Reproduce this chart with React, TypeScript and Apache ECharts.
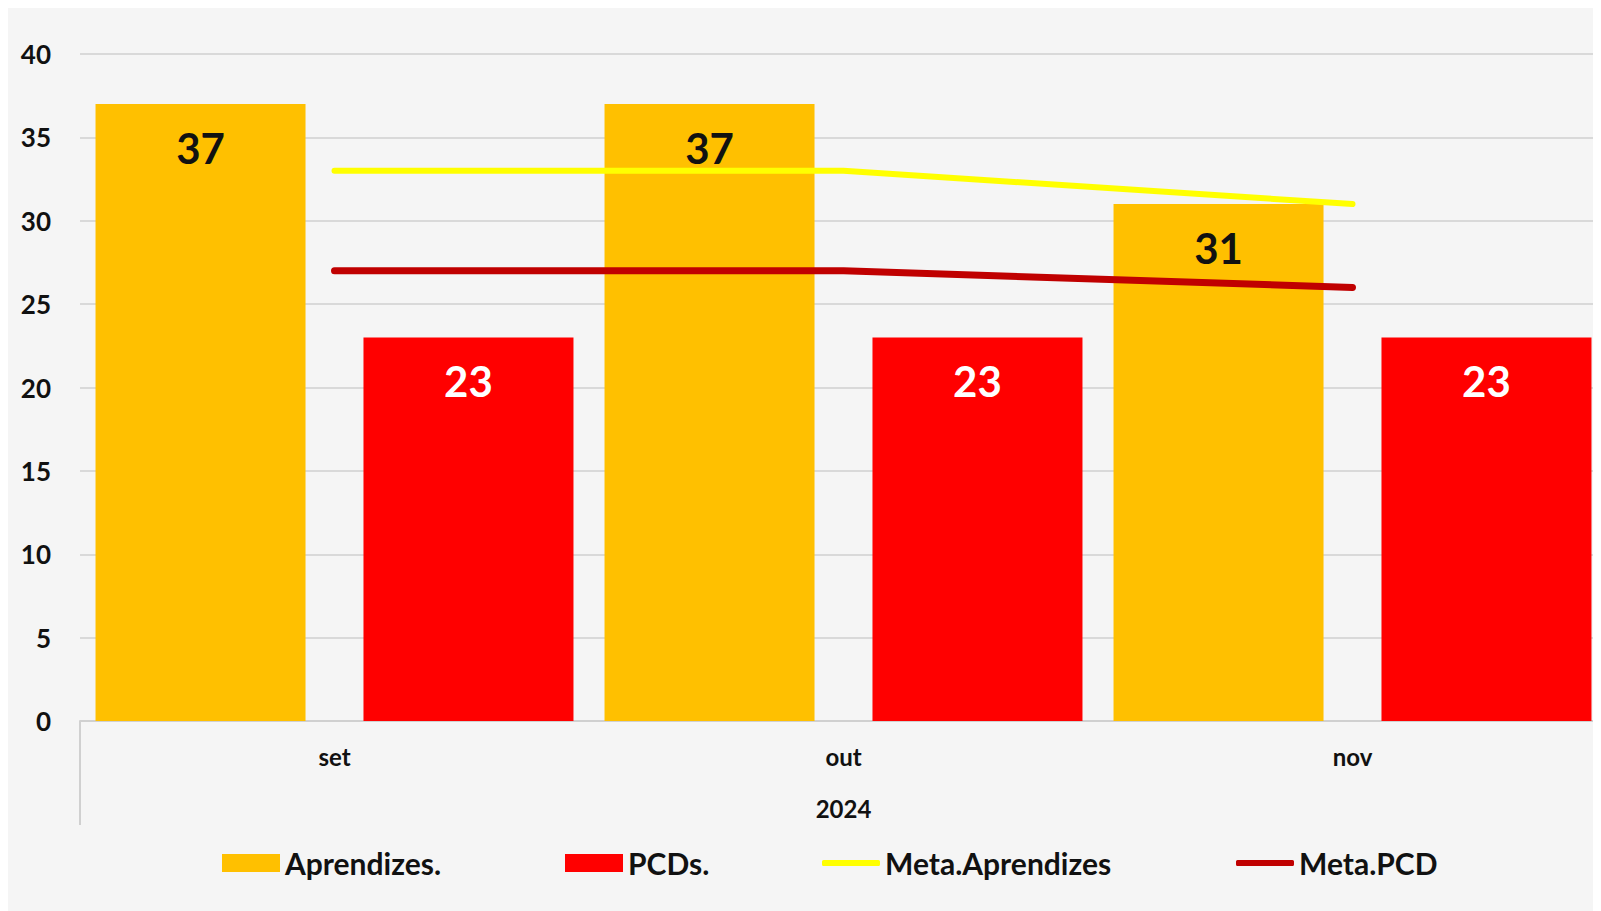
import React, { useEffect, useRef } from "react";
import * as echarts from "echarts";

const categories = ["set", "out", "nov"];
const aprendizes = [37, 37, 31];
const pcds = [23, 23, 23];
const metaAprendizes = [33, 33, 31];
const metaPCD = [27, 27, 26];
const yearLabel = "2024";
const seriesNames = ["Aprendizes.", "PCDs.", "Meta.Aprendizes", "Meta.PCD"];

const FONT = "Lato, 'Open Sans', sans-serif";
const legendLefts = [209, 552, 809, 1223];

export default function App() {
  const ref = useRef<HTMLDivElement>(null);
  useEffect(() => {
    if (!ref.current) return;
    const chart = echarts.init(ref.current, null, { renderer: "svg" });
    const legendText = { fontSize: 30, fontWeight: "bold", color: "#111", fontFamily: FONT };
    chart.setOption({
      animation: false,
      backgroundColor: "#f5f5f5",
      textStyle: { fontFamily: FONT },
      grid: { left: 72, right: 2, top: 46, bottom: 190, containLabel: false },
      legend: seriesNames.map((n, i) => ({
        left: legendLefts[i],
        top: 835,
        orient: "horizontal",
        itemWidth: 58,
        itemHeight: i < 2 ? 18 : 6,
        textStyle: legendText,
        data: [{ name: n, icon: i < 2 ? "rect" : "roundRect" }],
      })),
      xAxis: {
        type: "category",
        data: categories,
        axisLine: { show: true, lineStyle: { color: "#d0d0d0", width: 2 } },
        axisTick: { show: false },
        axisLabel: { fontSize: 24, fontWeight: "bold", color: "#111", margin: 23, fontFamily: FONT },
        name: yearLabel,
        nameLocation: "middle",
        nameGap: 75,
        nameTextStyle: { fontSize: 24, fontWeight: "bold", color: "#111", fontFamily: FONT },
        splitLine: { show: false },
      },
      yAxis: {
        type: "value",
        min: 0,
        max: 40,
        interval: 5,
        axisLine: { show: false },
        axisTick: { show: false },
        axisLabel: { fontSize: 26, fontWeight: "bold", color: "#111", margin: 29, fontFamily: FONT },
        splitLine: { lineStyle: { color: "#d9d9d9", width: 2 } },
      },
      series: [
        {
          name: seriesNames[0],
          type: "bar",
          data: aprendizes,
          barWidth: 210,
          barGap: "27.6%",
          itemStyle: { color: "#FFC000" },
          label: {
            show: true,
            position: "insideTop",
            distance: 23,
            fontSize: 42,
            fontWeight: "bold",
            color: "#111",
            fontFamily: FONT,
          },
          z: 1,
        },
        {
          name: seriesNames[1],
          type: "bar",
          data: pcds,
          barWidth: 210,
          barGap: "27.6%",
          itemStyle: { color: "#FF0000" },
          label: {
            show: true,
            position: "insideTop",
            distance: 23,
            fontSize: 42,
            fontWeight: "bold",
            color: "#ffffff",
            fontFamily: FONT,
          },
          z: 1,
        },
        {
          name: seriesNames[2],
          type: "line",
          data: metaAprendizes,
          symbol: "none",
          lineStyle: { color: "#FFFF00", width: 6, cap: "round" },
          itemStyle: { color: "#FFFF00" },
          z: 3,
        },
        {
          name: seriesNames[3],
          type: "line",
          data: metaPCD,
          symbol: "none",
          lineStyle: { color: "#C00000", width: 7, cap: "round" },
          itemStyle: { color: "#C00000" },
          z: 3,
        },
      ],
      graphic: [
        {
          type: "line",
          shape: { x1: 72, y1: 713, x2: 72, y2: 817 },
          style: { stroke: "#d0d0d0", lineWidth: 2 },
        },
      ],
    });
    return () => chart.dispose();
  }, []);
  return (
    <div style={{ width: 1593, height: 903, overflow: "hidden" }}>
      <div ref={ref} style={{ width: 1601, height: 903 }} />
    </div>
  );
}
